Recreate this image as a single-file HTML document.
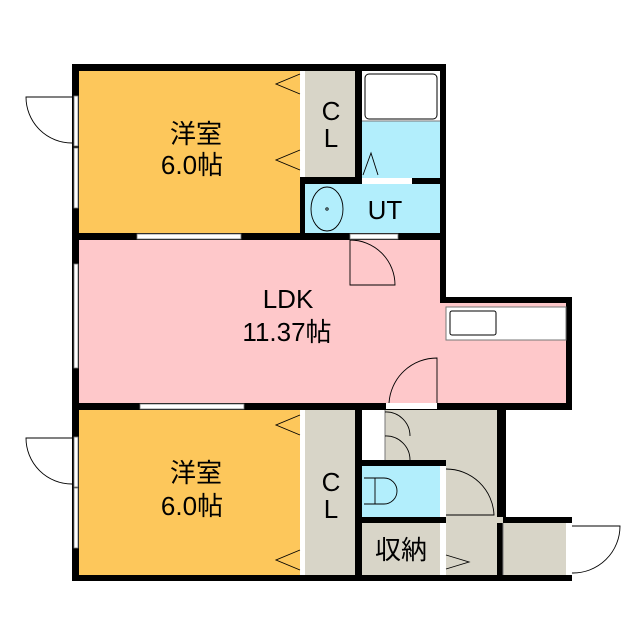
<!DOCTYPE html><html><head><style>body{margin:0;background:#fff}svg{display:block}</style></head><body>
<svg width="640" height="640" viewBox="0 0 640 640" xmlns="http://www.w3.org/2000/svg" font-family="Liberation Sans, Noto Sans CJK JP, sans-serif">
<rect width="640" height="640" fill="#fff"/>
<rect x="72" y="64" width="374" height="176" fill="#000"/>
<rect x="79" y="71" width="221" height="162" fill="#fdc75b"/>
<rect x="305" y="71" width="50" height="106" fill="#d8d5c8"/>
<rect x="362" y="71" width="78" height="107" fill="#b2eefc"/>
<rect x="362" y="71" width="78" height="50" fill="#fff"/>
<rect x="365" y="74" width="72" height="45" rx="4" fill="none" stroke="#000" stroke-width="1"/>
<line x1="362" y1="121" x2="440" y2="121" stroke="#777"/>
<rect x="305" y="184" width="135" height="49" fill="#b2eefc"/>
<rect x="300" y="71" width="5" height="106" fill="#fff"/>
<rect x="362" y="178" width="50" height="6" fill="#fff"/>
<rect x="72" y="233" width="374" height="177" fill="#000"/>
<rect x="440" y="297" width="132" height="113" fill="#000"/>
<rect x="79" y="240" width="361" height="163" fill="#fec8ca"/>
<rect x="440" y="303" width="126" height="100" fill="#fec8ca"/>
<rect x="446" y="307" width="120" height="33" fill="#fff" stroke="#777"/>
<rect x="450" y="311" width="46" height="24" rx="2" fill="none" stroke="#000"/>
<rect x="72" y="403" width="434" height="178" fill="#000"/>
<rect x="497" y="517" width="75" height="64" fill="#000"/>
<rect x="79" y="410" width="221" height="165" fill="#fdc75b"/>
<rect x="305" y="410" width="50" height="165" fill="#d8d5c8"/>
<rect x="300" y="410" width="5" height="165" fill="#fff"/>
<rect x="362" y="410" width="135" height="165" fill="#d8d5c8"/>
<rect x="503" y="523" width="63" height="52" fill="#d8d5c8"/>
<rect x="497" y="517" width="6" height="6" fill="#d8d5c8"/>
<rect x="362" y="410" width="23" height="50" fill="#fff"/>
<line x1="385" y1="410" x2="385" y2="460" stroke="#777"/>
<rect x="355" y="460" width="91" height="63" fill="#000"/>
<rect x="362" y="466" width="78" height="51" fill="#b2eefc"/>
<rect x="362" y="523" width="78" height="52" fill="#d8d5c8"/>
<rect x="440" y="466" width="6" height="51" fill="#fff"/>
<rect x="440" y="523" width="6" height="52" fill="#fff"/>
<rect x="446" y="517" width="51" height="6" fill="#d8d5c8"/>
<line x1="503" y1="523" x2="503" y2="575" stroke="#777"/>
<rect x="566" y="523" width="6" height="52" fill="#fff"/>
<rect x="386" y="403" width="51" height="6" fill="#fff"/>
<g fill="#fff" stroke="#777" stroke-width="0.8">
<rect x="74" y="96" width="4" height="50"/><rect x="74" y="148" width="4" height="60"/>
<rect x="74" y="264" width="4" height="104"/>
<rect x="74" y="437" width="4" height="50"/><rect x="74" y="488" width="4" height="60"/>
<rect x="137" y="234" width="104" height="5"/>
<rect x="140" y="404" width="104" height="5"/>
<rect x="350" y="234" width="48" height="5"/>
</g>
<g fill="none" stroke="#000" stroke-width="0.9">
<path d="M72 97 H26 A46 46 0 0 0 72 143"/>
<path d="M72 438 H26 A46 46 0 0 0 72 484"/>
<path d="M350 240 V285 H395 A45 45 0 0 0 350 240" />
<path d="M437 403 V358 A48 48 0 0 0 389 403"/>
<path d="M385 412 A24 24 0 0 1 410 436 M385 436 A24 24 0 0 1 410 460"/>
<path d="M446 469 A48 48 0 0 1 494 515 H446"/>
<path d="M572 526 H620 A47 47 0 0 1 572 573"/>
<path d="M300 74 L276 84 L300 94 M300 150 L276 160 L300 170"/>
<path d="M300 415 L276 425 L300 435 M300 550 L276 560 L300 570"/>
<path d="M446 555 L469 562 L446 569"/>
<path d="M363 175 L371 153 L378 175"/>
<ellipse cx="327" cy="209" rx="16" ry="22"/>
<circle cx="327" cy="209" r="1.2"/>
<path d="M364 478 H384 A13 13 0 0 1 384 504 H364 M375 478 V504"/>
</g>
<g fill="#000" text-anchor="middle" font-size="26">
<text x="196" y="143">洋室</text>
<text x="192" y="174">6.0帖</text>
<text x="331" y="120">C</text>
<text x="331" y="147">L</text>
<text x="385" y="219">UT</text>
<text x="288" y="308">LDK</text>
<text x="287" y="341">11.37帖</text>
<text x="196" y="482">洋室</text>
<text x="192" y="515">6.0帖</text>
<text x="331" y="491">C</text>
<text x="331" y="518">L</text>
<text x="401" y="559">収納</text>
</g>
</svg>
</body></html>
